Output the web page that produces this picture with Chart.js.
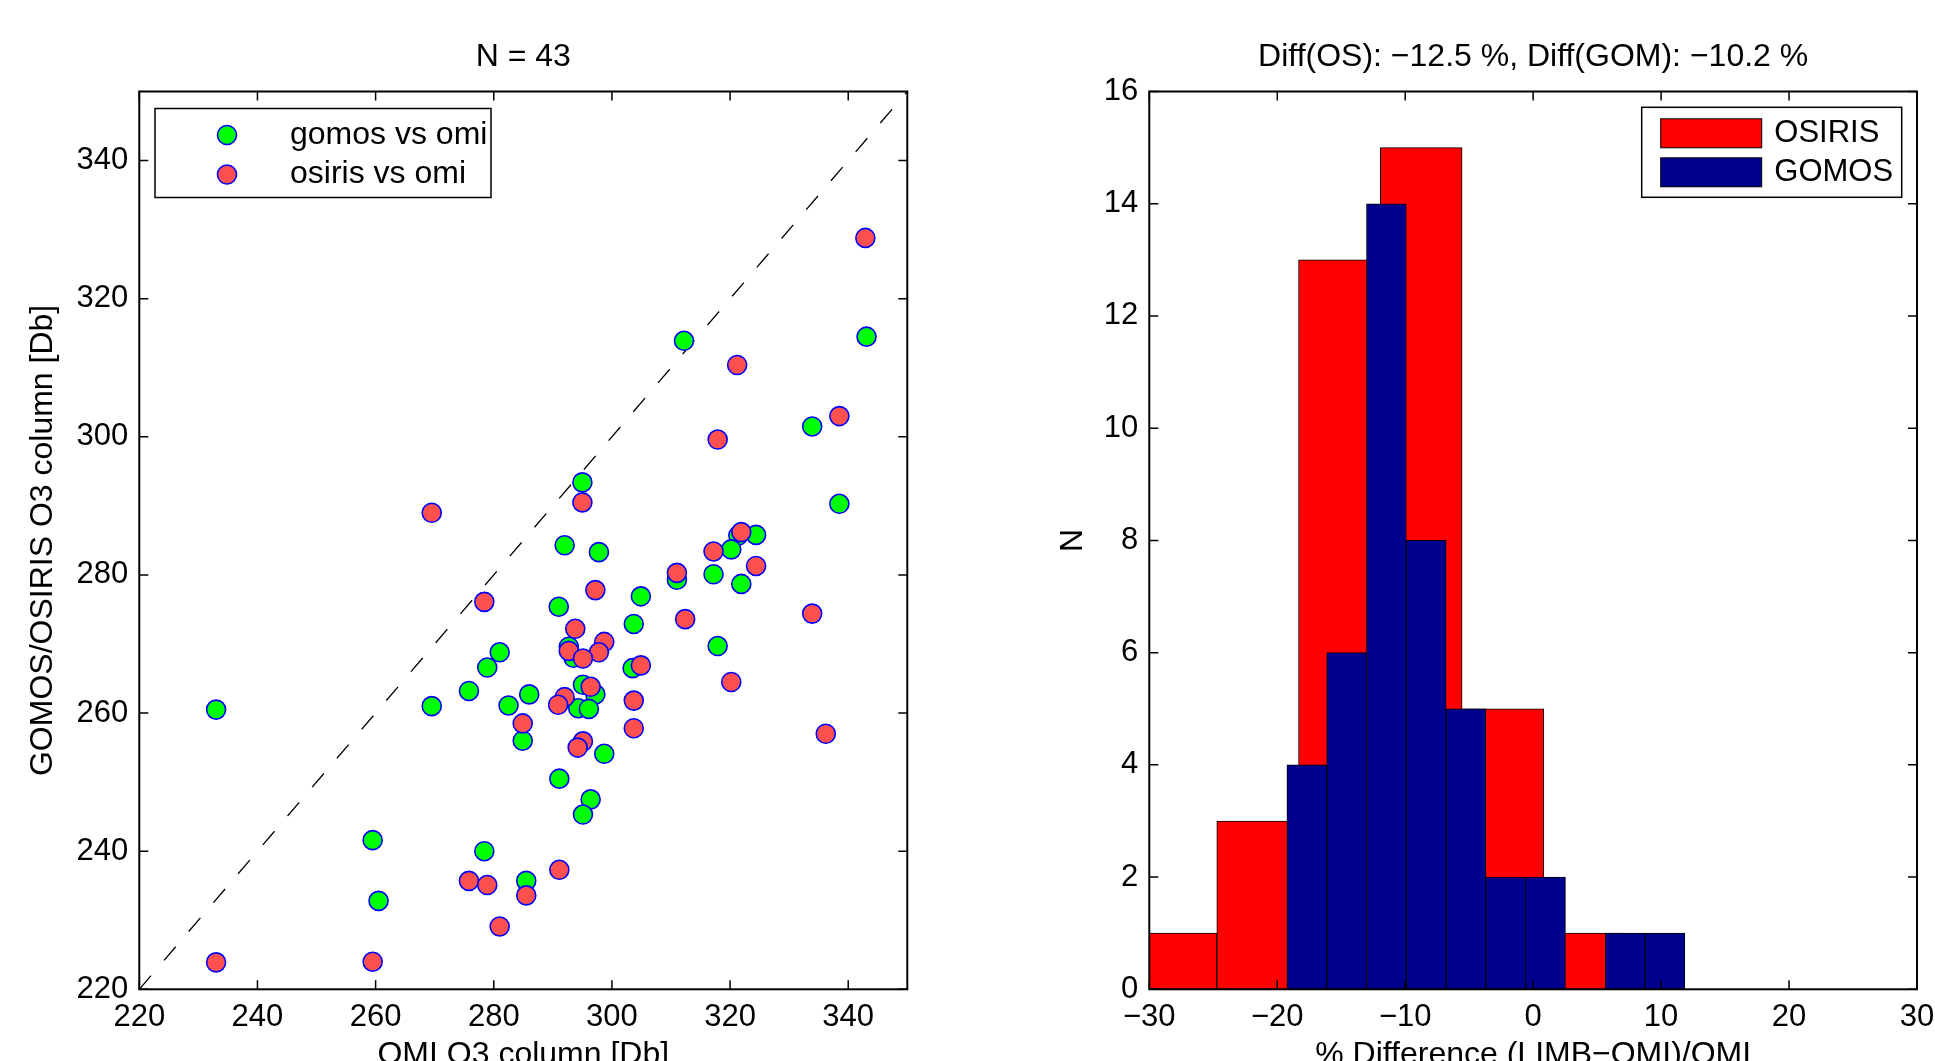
<!DOCTYPE html>
<html>
<head>
<meta charset="utf-8">
<title>OMI vs GOMOS / OSIRIS ozone columns</title>
<script src="https://cdn.jsdelivr.net/npm/chart.js@4.4.0/dist/chart.umd.min.js"></script>
<style>
    html, body { margin: 0; padding: 0; background: #fff; overflow: hidden; }
    body { width: 1935px; height: 1061px; position: relative; }
    .panel { position: absolute; top: 0; }
    #scatterPanel { left: 0; }
    #histPanel { left: 967px; }
</style>
</head>
<body>
<div class="panel" id="scatterPanel"><canvas id="scatterChart" width="967" height="1100"></canvas></div>
<!-- wider than the window so the last x tick label has room past the plot edge -->
<div class="panel" id="histPanel"><canvas id="histChart" width="1000" height="1100"></canvas></div>

<script>
// ---- scatter: OMI column vs limb instruments [Db] ----
const omiGomos = [295.0, 333.9, 338.5, 292.0, 297.8, 324.4, 321.4, 320.2, 317.2, 321.9,
    311.0, 304.9, 291.0, 303.7, 317.9, 281.0, 278.9, 275.8, 269.5, 282.5,
    286.0, 284.9, 303.5, 295.1, 297.2, 294.3, 296.1, 298.7, 291.1, 296.4,
    295.1, 278.4, 285.5, 233.0, 259.5, 260.5, 343.1, 312.2, 292.7, 293.5];
const gomosCol = [293.4, 301.5, 290.3, 284.3, 283.3, 285.8, 285.7, 283.7, 280.1, 278.7,
    279.3, 276.9, 275.4, 272.9, 269.7, 268.8, 266.6, 263.2, 261.0, 261.1,
    262.7, 256.0, 266.5, 264.1, 262.7, 260.7, 260.6, 254.1, 250.5, 247.5,
    245.3, 240.0, 235.7, 260.5, 241.6, 232.8, 314.5, 313.9, 269.6, 268.0];

const omiOsiris = [338.5, 317.9, 295.0, 269.5, 321.9, 317.2, 311.0, 324.4, 297.2, 278.4,
    312.4, 333.9, 293.8, 298.7, 297.8, 292.7, 295.1, 304.9, 320.2, 296.4,
    292.0, 290.9, 303.7, 284.9, 303.7, 336.2, 295.1, 294.2, 291.1, 275.8,
    278.9, 285.5, 281.0, 342.9, 321.2, 233.0, 259.5];
const osirisCol = [303.0, 299.6, 290.5, 289.0, 286.2, 283.4, 280.3, 281.3, 277.8, 276.1,
    273.6, 274.4, 272.2, 270.3, 268.8, 269.0, 267.9, 266.9, 264.5, 263.8,
    262.3, 261.2, 261.8, 258.5, 257.8, 257.0, 255.9, 255.0, 237.3, 235.7,
    235.1, 233.6, 229.1, 328.8, 310.4, 223.9, 224.0];

const oneToOne = [220, 350];
const nMatches = 43;

// ---- histogram: % difference (LIMB-OMI)/OMI ----
const osirisBinCenters = [-27.92, -21.53, -15.14, -8.75, -2.36, 4.03];
const osirisCounts = [1, 3, 13, 15, 5, 1];
const gomosBinCenters = [-17.69, -14.58, -11.47, -8.36, -5.25, -2.14, 0.97, 4.08, 7.19, 10.30];
const gomosCounts = [4, 6, 14, 8, 5, 2, 2, 0, 1, 1];
const diffOsiris = -12.5;
const diffGomos = -10.2;

const FONT = '"Liberation Sans", Arial, Helvetica, sans-serif';
Chart.defaults.font.family = FONT;
Chart.defaults.color = '#000';

const minus = v => (v < 0 ? '\u2212' + Math.abs(v) : String(v));
const pairs = (xs, ys) => xs.map((x, i) => ({ x: x, y: ys[i] }));

// box frame with inward ticks on all four sides
const boxedAxes = {
    id: 'boxedAxes',
    afterDatasetsDraw(chart, args, opts) {
        const { ctx, chartArea: a } = chart;
        const xs = chart.scales.x, ys = chart.scales.y;
        const len = opts.tickLength;
        ctx.save();
        ctx.strokeStyle = '#000';
        ctx.lineWidth = 1.5;
        ctx.beginPath();
        xs.ticks.forEach(t => {
            const px = xs.getPixelForValue(t.value);
            ctx.moveTo(px, a.bottom); ctx.lineTo(px, a.bottom - len);
            ctx.moveTo(px, a.top); ctx.lineTo(px, a.top + len);
        });
        ys.ticks.forEach(t => {
            const py = ys.getPixelForValue(t.value);
            ctx.moveTo(a.left, py); ctx.lineTo(a.left + len, py);
            ctx.moveTo(a.right, py); ctx.lineTo(a.right - len, py);
        });
        ctx.stroke();
        ctx.lineWidth = 2;
        ctx.strokeRect(a.left, a.top, a.width, a.height);
        ctx.restore();
    }
};

// framed legend inside the plot area
const boxLegend = {
    id: 'boxLegend',
    afterDraw(chart, args, opts) {
        const { ctx, chartArea: a } = chart;
        const x0 = opts.right != null ? a.right - opts.right - opts.width : a.left + opts.left;
        const y0 = a.top + opts.top;
        ctx.save();
        ctx.fillStyle = '#fff';
        ctx.fillRect(x0, y0, opts.width, opts.height);
        ctx.strokeStyle = '#000';
        ctx.lineWidth = 1.5;
        ctx.strokeRect(x0, y0, opts.width, opts.height);
        ctx.font = opts.fontSize + 'px ' + FONT;
        ctx.textBaseline = 'middle';
        ctx.textAlign = 'left';
        opts.items.forEach((di, i) => {
            const ds = chart.data.datasets[di];
            const cy = y0 + opts.rows[i];
            if (opts.marker === 'circle') {
                ctx.beginPath();
                ctx.arc(x0 + opts.markerX, cy, ds.pointRadius, 0, Math.PI * 2);
                ctx.fillStyle = ds.backgroundColor;
                ctx.fill();
                ctx.lineWidth = ds.borderWidth;
                ctx.strokeStyle = ds.borderColor;
                ctx.stroke();
            } else {
                ctx.fillStyle = ds.backgroundColor;
                ctx.fillRect(x0 + opts.markerX, cy - opts.swatchH / 2, opts.swatchW, opts.swatchH);
                ctx.lineWidth = 1;
                ctx.strokeStyle = '#000';
                ctx.strokeRect(x0 + opts.markerX, cy - opts.swatchH / 2, opts.swatchW, opts.swatchH);
            }
            ctx.fillStyle = '#000';
            ctx.fillText(ds.label, x0 + opts.textX, cy);
        });
        ctx.restore();
    }
};

function axisTitle(text, pad) {
    return { display: true, text: text, font: { size: 32 }, padding: pad };
}

// fullSize off so the title sits over the plot box, not the whole canvas
function plotTitle(text) {
    return { display: true, fullSize: false, text: text,
        font: { size: 32, weight: 'normal', lineHeight: 1.2 },
        padding: { top: 37.6, bottom: 15.5 } };
}

const tickFont = { size: 31, lineHeight: 1.2 };

// left panel
new Chart(document.getElementById('scatterChart'), {
    type: 'scatter',
    data: {
        datasets: [{
            label: 'osiris vs omi',
            data: pairs(omiOsiris, osirisCol),
            backgroundColor: '#FF5050',
            borderColor: '#0000FF',
            borderWidth: 1.6,
            pointRadius: 9.5,
            order: 0
        }, {
            label: 'gomos vs omi',
            data: pairs(omiGomos, gomosCol),
            backgroundColor: '#00FF00',
            borderColor: '#0000FF',
            borderWidth: 1.6,
            pointRadius: 9.5,
            order: 1
        }, {
            label: '1:1',
            data: pairs(oneToOne, oneToOne),
            showLine: true,
            borderColor: '#000',
            borderWidth: 1.3,
            borderDash: [18, 20],
            pointRadius: 0,
            order: 2
        }]
    },
    options: {
        responsive: false,
        animation: false,
        layout: { padding: { left: 0, right: 967 - 907.3, top: 0, bottom: 0 } },
        scales: {
            x: {
                type: 'linear', min: 220, max: 350,
                ticks: { stepSize: 20, includeBounds: false, font: tickFont, padding: 10, maxRotation: 0, autoSkip: false },
                grid: { display: false, drawTicks: false },
                border: { display: false },
                title: axisTitle('OMI O3 column [Db]', { top: 0, bottom: 26 }),
                afterFit: s => { s.height = 1100 - 989.3; }
            },
            y: {
                type: 'linear', min: 220, max: 350,
                ticks: { stepSize: 20, includeBounds: false, font: tickFont, padding: 11, autoSkip: false },
                grid: { display: false, drawTicks: false },
                border: { display: false },
                title: axisTitle('GOMOS/OSIRIS O3 column [Db]', { top: 23.8, bottom: 0 }),
                afterFit: s => { s.width = 139.3; }
            }
        },
        plugins: {
            legend: { display: false },
            tooltip: { enabled: false },
            title: plotTitle('N = ' + nMatches),
            boxedAxes: { tickLength: 9 },
            boxLegend: {
                left: 15.7, top: 17, width: 336, height: 89,
                items: [1, 0], rows: [26.5, 66],
                marker: 'circle', markerX: 72, textX: 135, fontSize: 32
            }
        }
    },
    plugins: [boxedAxes, boxLegend]
});

// right panel
new Chart(document.getElementById('histChart'), {
    type: 'bar',
    data: {
        datasets: [{
            label: 'OSIRIS',
            data: pairs(osirisBinCenters, osirisCounts),
            xAxisID: 'xOs',
            backgroundColor: '#FF0000',
            order: 1
        }, {
            label: 'GOMOS',
            data: pairs(gomosBinCenters, gomosCounts),
            xAxisID: 'x',
            backgroundColor: '#00008F',
            order: 0
        }]
    },
    options: {
        responsive: false,
        animation: false,
        layout: { padding: { left: 0, right: 1000 - 950, top: 0, bottom: 0 } },
        datasets: {
            bar: {
                barPercentage: 1, categoryPercentage: 1, grouped: false,
                borderColor: '#000', borderWidth: 1, borderSkipped: false, clip: 0
            }
        },
        scales: {
            x: {
                type: 'linear', position: 'bottom', min: -30, max: 30, offset: false,
                ticks: { stepSize: 10, font: tickFont, padding: 10, maxRotation: 0, autoSkip: false, callback: minus },
                grid: { display: false, drawTicks: false, offset: false },
                border: { display: false },
                title: axisTitle('% Difference (LIMB\u2212OMI)/OMI', { top: 0, bottom: 26 }),
                afterFit: s => { s.height = 1100 - 989.3; }
            },
            xOs: {
                type: 'linear', position: 'bottom', display: false, min: -30, max: 30, offset: false,
                ticks: { stepSize: 10 },
                grid: { offset: false }
            },
            y: {
                type: 'linear', min: 0, max: 16,
                ticks: { stepSize: 2, font: tickFont, padding: 11, autoSkip: false },
                grid: { display: false, drawTicks: false },
                border: { display: false },
                title: axisTitle('N', { top: 87.4, bottom: 0 }),
                afterFit: s => { s.width = 182.3; }
            }
        },
        plugins: {
            legend: { display: false },
            tooltip: { enabled: false },
            title: plotTitle('Diff(OS): ' + minus(diffOsiris) + ' %, Diff(GOM): ' + minus(diffGomos) + ' %'),
            boxedAxes: { tickLength: 9 },
            boxLegend: {
                right: 15.3, top: 15.8, width: 260, height: 90,
                items: [0, 1], rows: [26, 65],
                marker: 'rect', markerX: 19, swatchW: 101, swatchH: 29, textX: 132.6, fontSize: 31
            }
        }
    },
    plugins: [boxedAxes, boxLegend]
});
</script>
</body>
</html>
